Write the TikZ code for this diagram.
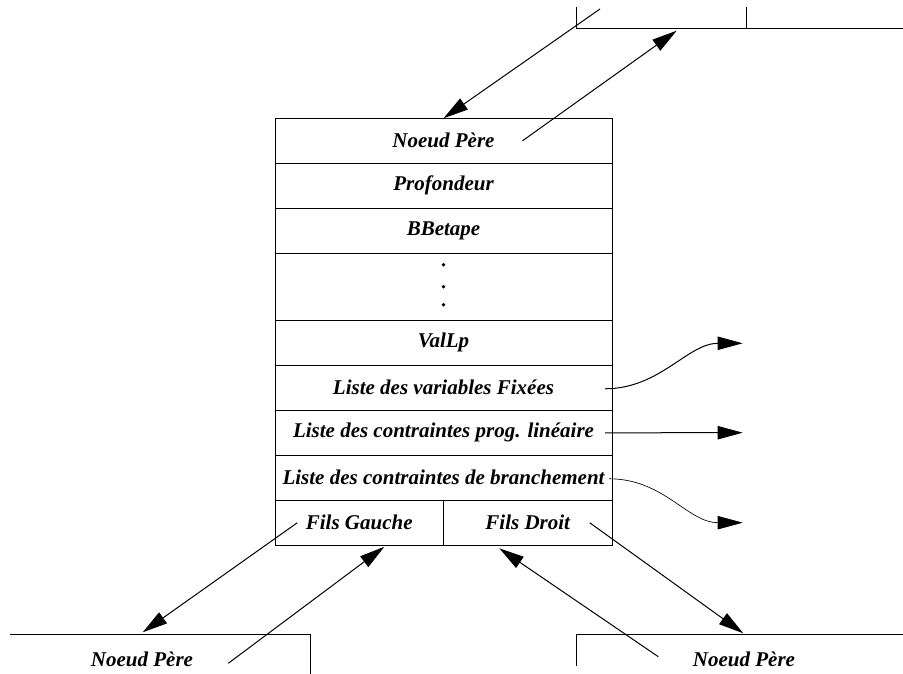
\documentclass[tikz,border=0pt]{standalone}
\usepackage{fontspec}
\setmainfont{Liberation Serif}
\usetikzlibrary{positioning,arrows.meta,calc}
\tikzset{
	champ/.style={draw,line width=0.6pt,minimum width=202.2pt,minimum height=27pt,inner sep=0pt,outer sep=0pt,font=\fontsize{12.6}{14}\selectfont\bfseries\itshape},
	texte/.style={font=\fontsize{12.6}{14}\selectfont\bfseries\itshape},
	fleche/.style={-{Triangle[length=15pt,width=8pt]},line width=0.6pt},
	bord/.style={line width=0.6pt}
}
\begin{document}
\begin{tikzpicture}[x=0.6pt,y=0.6pt]
	\useasboundingbox (0,0) rectangle (903,674);
	\node[champ] (pere) at (443.5,533.2) {Noeud Père};
	\node[champ,below=0pt of pere] (prof) {Profondeur};
	\node[champ,below=0pt of prof] (bbetape) {BBetape};
	\node[champ,below=0pt of bbetape,minimum height=40.2pt] (points) {};
	\node[champ,below=0pt of points] (vallp) {ValLp};
	\node[champ,below=0pt of vallp] (varfix) {Liste des variables Fixées};
	\node[champ,below=0pt of varfix] (contlp) {Liste des contraintes prog. linéaire};
	\node[champ,below=0pt of contlp] (contbr) {Liste des contraintes de branchement};
	\node[champ,minimum width=101.1pt,anchor=north west] (fg) at (contbr.south west) {Fils Gauche};
	\node[champ,minimum width=101.1pt,right=0pt of fg] (fd) {Fils Droit};
	\foreach \d in {22,0,-18}
		\fill ($(points.center)+(0,\d)$) circle[radius=1.1pt];
	\draw[bord] (576,667.3) -- (576,645.7) -- (903,645.7);
	\draw[bord] (746.7,667.3) -- (746.7,645.7);
	\draw[bord] (10,39) -- (310.7,39) -- (310.7,0);
	\draw[bord] (576,8) -- (576,39) -- (903,39);
	\node[texte] (pereg) at (142,15) {Noeud Père};
	\node[texte] (pered) at (744,15) {Noeud Père};
	\coordinate (hautg) at (600,665);
	\coordinate (hautd) at (676.7,643.3);
	\coordinate (fixees) at (742.7,330.7);
	\coordinate (lineaire) at (742.7,241.3);
	\coordinate (branche) at (742.7,151.3);
	\coordinate (gbas) at (142.7,41.7);
	\coordinate (gmont) at (228.3,10.7);
	\coordinate (dbas) at (743.3,40.7);
	\coordinate (dmont) at (658.3,17.3);
	\draw[fleche] (hautg) -- (pere.north);
	\draw[fleche] ($(pere.center)+(79,0)$) -- (hautd);
	\draw[fleche] ($(varfix.east)+(-7,-1)$) .. controls +(55,0) and +(-55,0) .. (fixees);
	\draw[fleche] ($(contlp.east)+(-7,0)$) -- (lineaire);
	\draw[fleche,line width=0.4pt] ($(contbr.east)+(-3,-1)$) .. controls +(55,0) and +(-55,0) .. (branche);
	\draw[fleche] ($(fg.center)+(-62,0)$) -- (gbas);
	\draw[fleche] (gmont) -- ($(fg.south)+(25,-1.5)$);
	\draw[fleche] ($(fd.center)+(62,0)$) -- (dbas);
	\draw[fleche] (dmont) -- ($(fd.south)+(-28.5,-3)$);
\end{tikzpicture}
\end{document}
